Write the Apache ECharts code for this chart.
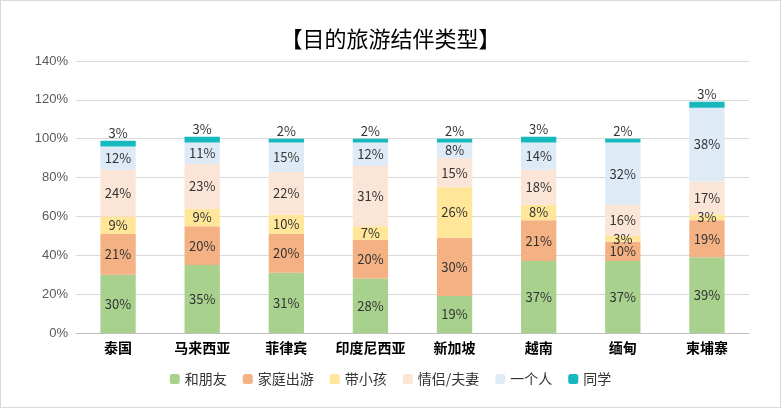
<!DOCTYPE html>
<html><head><meta charset="utf-8">
<script src="https://cdn.jsdelivr.net/npm/echarts@6/dist/echarts.min.js"></script>
<style>body{margin:0}#main{width:781px;height:408px;box-sizing:border-box;border:1px solid #d9d9d9}</style>
</head><body><div id="main"></div>
<script>
const categories = ['泰国','马来西亚','菲律宾','印度尼西亚','新加坡','越南','缅甸','柬埔寨'];
const friends = [30,35,31,28,19,37,37,39];
const family = [21,20,20,20,30,21,10,19];
const kids = [9,9,10,7,26,8,3,3];
const couple = [24,23,22,31,15,18,16,17];
const alone = [12,11,15,12,8,14,32,38];
const classmates = [3,3,2,2,2,3,2,3];

let chart = echarts.init(document.getElementById('main'));
function s(name, data, color, pos) {
    return {
        name: name, type: 'bar', stack: 'total', data: data, barWidth: '42%',
        itemStyle: {color: color},
        label: {show: true, position: pos || 'inside', distance: 1, formatter: '{c}%', color: '#333', fontSize: 13,
                fontFamily: 'Noto Sans CJK SC'}
    };
}
option = {
    title: {text: '【目的旅游结伴类型】', left: 'center', top: 22,
        textStyle: {fontSize: 22, fontWeight: 'normal', color: '#000', fontFamily: 'Noto Sans CJK SC'}},
    legend: {bottom: 16, itemWidth: 10, itemHeight: 10, itemGap: 16,
        textStyle: {fontSize: 14, color: '#333', fontFamily: 'Noto Sans CJK SC'},
        data: ['和朋友','家庭出游','带小孩','情侣/夫妻','一个人','同学']},
    grid: {left: 75, right: 31, top: 60, bottom: 74},
    xAxis: {type: 'category', data: categories,
        axisLine: {lineStyle: {color: '#bfbfbf'}}, axisTick: {show: false},
        axisLabel: {interval: 0, fontSize: 14, fontWeight: 'bold', color: '#000', fontFamily: 'Noto Sans CJK SC'}},
    yAxis: {type: 'value', min: 0, max: 140, interval: 20,
        axisLabel: {formatter: '{value}%', color: '#595959', fontSize: 13},
        splitLine: {lineStyle: {color: '#d9d9d9'}}},
    series: [
        s('和朋友', friends, '#A9D18E'),
        s('家庭出游', family, '#F4B183'),
        s('带小孩', kids, '#FFE699'),
        s('情侣/夫妻', couple, '#FBE5D6'),
        s('一个人', alone, '#DEEBF7'),
        s('同学', classmates, '#17B8BE', 'top')
    ]
};
chart.setOption(option);
</script></body></html>
